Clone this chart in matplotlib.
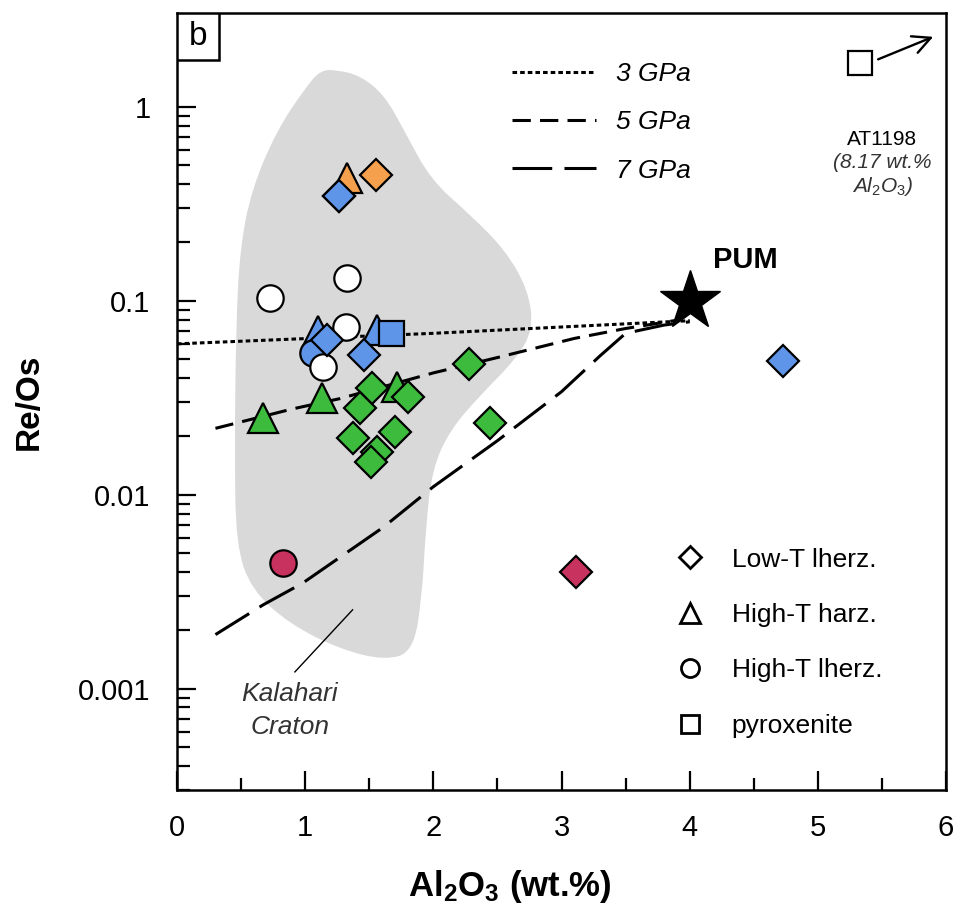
import numpy as np
import matplotlib
matplotlib.use("Agg")
import matplotlib.pyplot as plt
from matplotlib.lines import Line2D
from matplotlib.path import Path
from matplotlib.patches import PathPatch, Rectangle
from matplotlib.ticker import FixedLocator, NullFormatter

############################# Data ######################################

# Kalahari Craton field outline (Al2O3, Re/Os)
kal_x = [1.25, 1.43, 1.62, 1.78, 1.98, 2.29, 2.56, 2.74, 2.78, 2.64, 2.37, 2.13,
         1.99, 1.94, 1.91, 1.84, 1.62, 1.27, 0.88, 0.58, 0.46, 0.45, 0.46, 0.49,
         0.58, 0.78, 1.00, 1.12]
kal_y = [1.55, 1.45, 1.15, 0.74, 0.42, 0.277, 0.183, 0.114, 0.071, 0.0497, 0.0328,
         0.0216, 0.0135, 0.0066, 0.00288, 0.00155, 0.0014, 0.00160, 0.00215,
         0.00324, 0.00552, 0.017, 0.071, 0.183, 0.373, 0.76, 1.25, 1.55]

# melting curves
gpa3_x = [0.0, 2.0, 4.0]
gpa3_y = [0.060, 0.068, 0.079]
gpa5_x = [0.3, 0.9, 1.27, 2.0, 2.5, 3.1, 3.5, 3.93]
gpa5_y = [0.022, 0.0277, 0.0313, 0.0425, 0.051, 0.064, 0.072, 0.080]
gpa7_x = [0.3, 0.67, 0.98, 1.61, 2.0, 2.5, 3.0, 3.3, 3.5, 3.8, 4.0]
gpa7_y = [0.0019, 0.0027, 0.0035, 0.0068, 0.011, 0.019, 0.034, 0.052, 0.068, 0.075, 0.078]

# samples
green_d_x = [1.52, 1.43, 1.80, 2.28, 1.37, 1.70, 1.56, 1.51, 2.44]
green_d_y = [0.0356, 0.028, 0.032, 0.0473, 0.0197, 0.0211, 0.0167, 0.0148, 0.0235]
green_t_x = [0.67, 1.13, 1.72]
green_t_y = [0.0249, 0.0316, 0.036]

blue_d_x = [1.265, 1.17, 1.46, 4.73]
blue_d_y = [0.348, 0.063, 0.0527, 0.049]
blue_t_x = [1.56, 1.10]
blue_t_y = [0.071, 0.070]
blue_o_x = [1.06]
blue_o_y = [0.054]
blue_s_x = [1.67]
blue_s_y = [0.0684]

orange_d_x = [1.553]
orange_d_y = [0.446]
orange_t_x = [1.33]
orange_t_y = [0.43]

white_o_x = [0.726, 1.327, 1.32, 1.14]
white_o_y = [0.1036, 0.131, 0.0734, 0.0457]

red_o_x = [0.83]
red_o_y = [0.00446]
red_d_x = [3.11]
red_d_y = [0.0040]

pum_x, pum_y = 4.0, 0.1
at1198_x, at1198_y = 5.33, 1.69

############################# Plot parameters ###########################

plt.rcParams['font.family'] = ['Liberation Sans', 'DejaVu Sans']
plt.rcParams['mathtext.fontset'] = 'custom'
plt.rcParams['mathtext.rm'] = 'Liberation Sans'
plt.rcParams['mathtext.it'] = 'Liberation Sans:italic'
plt.rcParams['mathtext.bf'] = 'Liberation Sans:bold'

GREEN = '#3dbb3d'
BLUE = '#5f95e8'
ORANGE = '#f4a04c'
RED = '#c8325e'
GREY = '#d9d9d9'
EW = 1.6
DASH3 = (1.5, 1.0)
DASH5 = (6, 3)
DASH7 = (13, 4)

fig = plt.figure(figsize=(9.63, 9.18), dpi=100)
ax = fig.add_axes([0.1838, 0.1394, 0.7986, 0.8464])

ax.set_yscale('log')
ax.set_xlim(0, 6)
ax.set_ylim(0.0003, 3.05)

# Kalahari field, drawn as a smooth closed quadratic curve through the outline
n = len(kal_x)
lx = np.array(kal_x)
ly = np.log10(kal_y)
verts = []
codes = []
mid = lambda i, j: (0.5 * (lx[i] + lx[j]), 10 ** (0.5 * (ly[i] + ly[j])))
verts.append(mid(n - 1, 0))
codes.append(Path.MOVETO)
for i in range(n):
    verts.append((lx[i], 10 ** ly[i]))
    verts.append(mid(i, (i + 1) % n))
    codes += [Path.CURVE3, Path.CURVE3]
ax.add_patch(PathPatch(Path(verts, codes), fc=GREY, lw=0, zorder=1))

# melting curves
ax.plot(gpa3_x, gpa3_y, color='black', lw=2.2, dashes=DASH3, zorder=2)
ax.plot(gpa5_x, gpa5_y, color='black', lw=2.2, dashes=DASH5, zorder=2)
ax.plot(gpa7_x, gpa7_y, color='black', lw=2.2, dashes=DASH7, zorder=2)

def pts(x, y, m, c, ms):
    ax.plot(x, y, ls='none', marker=m, ms=ms, mfc=c, mec='black', mew=EW, zorder=3)

pts(green_t_x, green_t_y, '^', GREEN, 21)
pts(green_d_x, green_d_y, 'D', GREEN, 16)
pts(blue_t_x, blue_t_y, '^', BLUE, 21)
pts(blue_o_x, blue_o_y, 'o', BLUE, 19)
pts(white_o_x, white_o_y, 'o', 'white', 19)
pts(blue_s_x, blue_s_y, 's', BLUE, 18)
pts(blue_d_x, blue_d_y, 'D', BLUE, 16)
pts(orange_t_x, orange_t_y, '^', ORANGE, 21)
pts(orange_d_x, orange_d_y, 'D', ORANGE, 16)
pts(blue_d_x[:1], blue_d_y[:1], 'D', BLUE, 16)
pts(red_o_x, red_o_y, 'o', RED, 19)
pts(red_d_x, red_d_y, 'D', RED, 16)
pts([at1198_x], [at1198_y], 's', 'white', 17)

ax.plot(pum_x, pum_y, marker='*', ms=45, color='black', ls='none', zorder=4)
ax.text(4.18, 0.162, 'PUM', fontsize=21, fontweight='bold', ha='left', va='center')

# AT1198 off-scale
ax.annotate('', xy=(5.90, 2.30), xytext=(5.47, 1.76),
            arrowprops=dict(arrowstyle='->', lw=1.7, color='black',
                            mutation_scale=32, shrinkA=0, shrinkB=0))
ax.text(5.50, 0.68, 'AT1198', fontsize=15, ha='center', va='center')
ax.text(5.50, 0.52, '(8.17 wt.%', fontsize=15, ha='center', va='center',
        style='italic', color='#333333')
ax.text(5.50, 0.39, r'$\mathit{Al_2O_3}$)', fontsize=15, ha='center', va='center',
        style='italic', color='#333333')

# Kalahari label
ax.plot([0.92, 1.37], [0.00122, 0.00255], color='black', lw=1.0, zorder=2)
ax.text(0.88, 0.00077, 'Kalahari\nCraton', fontsize=19, style='italic',
        ha='center', va='center', color='#333333', linespacing=1.5)

# panel label
ax.add_patch(Rectangle((0, 1 - 0.060), 0.055, 0.060, transform=ax.transAxes,
                       fc='white', ec='black', lw=1.8, zorder=5))
ax.text(0.0275, 1 - 0.030, 'b', transform=ax.transAxes, fontsize=24,
        ha='center', va='center', zorder=6)

# legends
line_handles = [Line2D([], [], color='black', lw=2.2, dashes=DASH3),
                Line2D([], [], color='black', lw=2.2, dashes=DASH5),
                Line2D([], [], color='black', lw=2.2, dashes=DASH7)]
leg1 = ax.legend(line_handles, ['3 GPa', '5 GPa', '7 GPa'], loc='upper left',
                 bbox_to_anchor=(0.4356, 0.937), frameon=False, handlelength=3.2,
                 handletextpad=0.76, labelspacing=0.92, borderpad=0, borderaxespad=0,
                 prop={'size': 19, 'style': 'italic'})
ax.add_artist(leg1)

mk_handles = [Line2D([], [], ls='none', marker=m, ms=s, mfc='white', mec='black', mew=2)
              for m, s in [('D', 11), ('^', 14), ('o', 13), ('s', 13)]]
ax.legend(mk_handles, ['Low-T lherz.', 'High-T harz.', 'High-T lherz.', 'pyroxenite'],
          loc='upper left', bbox_to_anchor=(0.650, 0.312), frameon=False,
          handlelength=1.0, handletextpad=1.08, labelspacing=1.19, borderpad=0,
          borderaxespad=0, prop={'size': 19})

# axes, ticks
ax.set_xticks(np.arange(0, 7, 1))
ax.set_xticks(np.arange(0.5, 6, 1), minor=True)
ax.set_yticks([0.001, 0.01, 0.1, 1])
ax.set_yticklabels(['0.001', '0.01', '0.1', '1'])
ax.yaxis.set_minor_locator(FixedLocator([m * 10.0 ** e for e in range(-4, 0)
                                         for m in range(2, 10)]))
ax.yaxis.set_minor_formatter(NullFormatter())
ax.tick_params(which='both', direction='in', width=1.6, labelsize=21)
ax.tick_params(which='major', length=14)
ax.tick_params(which='minor', length=9)
ax.tick_params(axis='x', pad=17)
ax.tick_params(axis='y', pad=19)
for sp in ax.spines.values():
    sp.set_linewidth(1.8)

ax.set_xlabel(r'Al$_\mathbf{2}$O$_\mathbf{3}$ (wt.%)', fontsize=25, fontweight='bold')
ax.xaxis.set_label_coords(0.433, -0.100)
ax.set_ylabel('Re/Os', fontsize=24, fontweight='bold')
ax.yaxis.set_label_coords(-0.172, 0.5)

plt.savefig('out.png', dpi=100)
